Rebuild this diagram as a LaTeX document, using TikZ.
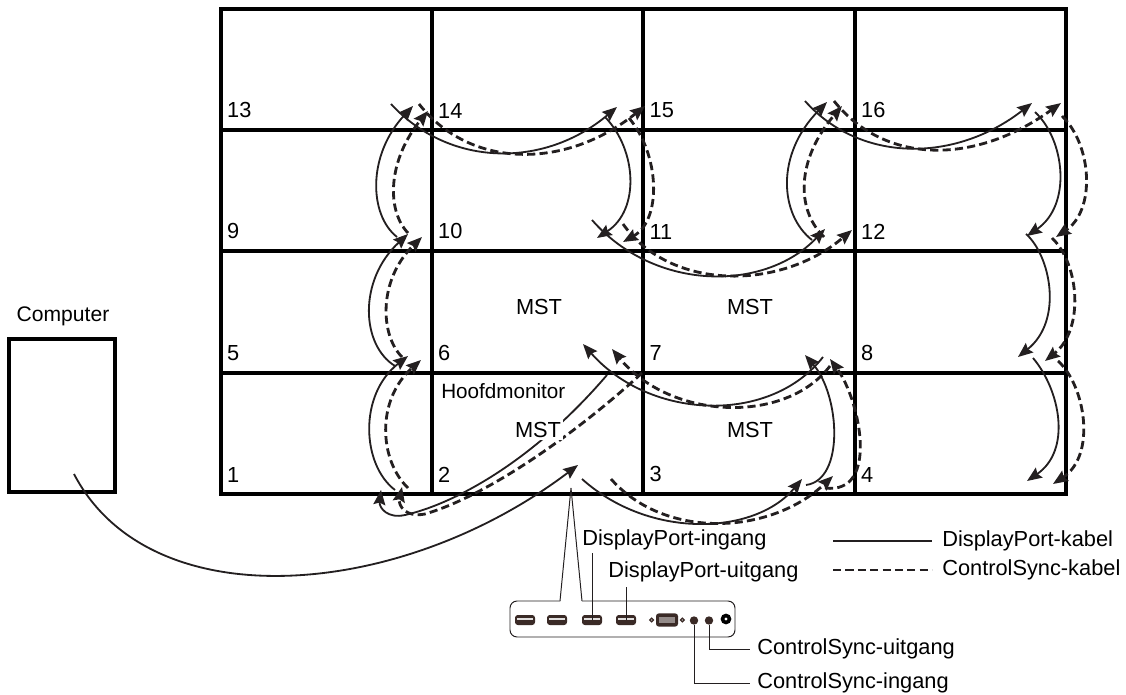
\documentclass[tikz,border=0pt]{standalone}
\usepackage{fontspec}
\setmainfont{Liberation Sans}
\usetikzlibrary{shapes,arrows.meta,positioning,calc}
\definecolor{cablegray}{HTML}{231F20}
\definecolor{portdark}{HTML}{3A2A26}

\begin{document}
\begin{tikzpicture}[
		x=0.025cm, y=-0.025cm,
		monitor/.style={draw, line width=2.8pt, inner sep=0pt, outer sep=0pt,
			minimum width=5.28cm, minimum height=3.04cm},
		num/.style={font=\fontsize{15.5}{18}\selectfont, anchor=south west, inner sep=0pt},
		lbl/.style={font=\fontsize{15.5}{18}\selectfont, inner sep=0pt},
		dpcable/.style={-{Stealth[length=10.5pt,width=8.5pt,inset=1.5pt]}, line width=1.3pt, cablegray},
		cscable/.style={-{Stealth[length=10.5pt,width=8.5pt,inset=1.5pt]}, line width=2pt, cablegray,
			dash pattern=on 5.8pt off 3pt},
		leader/.style={line width=0.7pt, cablegray},
		hdmi/.style={fill=portdark, rounded corners=2pt, inner sep=0pt,
			minimum width=0.5cm, minimum height=0.25cm},
		portbar/.style={fill=white!85!portdark, inner sep=0pt, minimum width=0.4cm, minimum height=0.05cm},
		jack/.style={circle, fill=portdark, inner sep=0pt, minimum size=0.21cm}
		]
		\useasboundingbox (0,0) rectangle (1126,695);
		
		% ── Monitor wall ──
		\foreach \row/\ypos/\first in {0/69.5/13, 1/190.5/9, 2/312/5, 3/433.5/1}
			\foreach \col/\xpos in {0/326.5, 1/537.5, 2/749, 3/960.5} {
				\pgfmathtruncatemacro{\idx}{\first+\col}
				\node[monitor] (m\idx) at (\xpos,\ypos) {};
				\node[num] (n\idx) at ($(m\idx.south west)+(6,-12)$) {\idx};
			}
		
		% ── Computer ──
		\node[draw, line width=2.8pt, inner sep=0pt, minimum width=2.65cm, minimum height=3.83cm] (computer) at (62,415.5) {};
		\node[lbl, font=\fontsize{15}{18}\selectfont] (computerlabel) at (63,316) {Computer};
		
		% ── Cable ends ──
		\foreach \name/\xpos/\ypos in {
			sa/395/490, sb/408/356, da/408/488, db/421/360,
			sc/395/366, sd/408/234, dc/402/357, dd/422/237,
			se/397/237, sf/413/106, de/408/233, df/428/111,
			sg/391/104, sh/617/107, dg/419/104, dh/645/106,
			si/605/117, sj/597/238, di/629/118, dj/623/242,
			sk/592/220, sl/825/229, dk/623/224, dl/852/230,
			sm/812/240, sn/827/102, dm/824/237, dn/842/106,
			so/805/101, sp/1032/103, do/834/101, dp/1061/103,
			sq/1035/112, sr/1027/236, dq/1062/116, dr/1056/237,
			ss/1026/234, st/1018/357, ds/1052/238, dt/1045/361,
			su/1033/358, sv/1027/481, du/1058/361, dv/1053/484,
			sw/823/357, sx/583/344, dw/830/366, dx/612/349,
			sy/806/485, sz/805/355, dy/825/488, dz/830/359,
			tsa/582/479, tsb/802/479, tda/611/479, tdb/833/476,
			lsa/607/375, lsb/381/490, lda/642/373, ldb/402/487,
			pca/74/474, pcb/578/465}
			\coordinate (\name) at (\xpos,\ypos);
		
		% ── Column 1 ──
		\draw[dpcable] (sa) .. controls (362,465) and (358,395) .. (sb);
		\draw[cscable] (da) .. controls (379,460) and (376,400) .. (db);
		\draw[dpcable] (sc) .. controls (361,345) and (358,280) .. (sd);
		\draw[cscable] (dc) .. controls (380,335) and (378,280) .. (dd);
		\draw[dpcable] (se) .. controls (369,215) and (367,155) .. (sf);
		\draw[cscable] (de) .. controls (386,210) and (388,160) .. (df);
		
		% ── Column 2 and 3 ──
		\draw[dpcable] (sg) .. controls (450,168) and (545,168) .. (sh);
		\draw[cscable] (dg) .. controls (470,169) and (565,170) .. (dh);
		\draw[dpcable] (si) .. controls (637,150) and (640,210) .. (sj);
		\draw[cscable] (di) .. controls (660,155) and (662,220) .. (dj);
		\draw[dpcable] (sk) .. controls (655,292) and (765,292) .. (sl);
		\draw[cscable] (dk) .. controls (670,291) and (780,291) .. (dl);
		\draw[dpcable] (sm) .. controls (780,215) and (775,155) .. (sn);
		\draw[cscable] (dm) .. controls (796,210) and (796,160) .. (dn);
		
		% ── Column 4 ──
		\draw[dpcable] (so) .. controls (860,163) and (955,163) .. (sp);
		\draw[cscable] (do) .. controls (885,165) and (975,165) .. (dp);
		\draw[dpcable] (sq) .. controls (1065,140) and (1072,205) .. (sr);
		\draw[cscable] (dq) .. controls (1092,145) and (1096,210) .. (dr);
		\draw[dpcable] (ss) .. controls (1050,255) and (1064,320) .. (st);
		\draw[cscable] (ds) .. controls (1080,265) and (1084,330) .. (dt);
		\draw[dpcable] (su) .. controls (1060,390) and (1072,450) .. (sv);
		\draw[cscable] (du) .. controls (1085,385) and (1097,455) .. (dv);
		
		% ── Bottom rows ──
		\draw[dpcable] (sw) .. controls (770,425) and (650,420) .. (sx);
		\draw[cscable] (dw) .. controls (785,425) and (670,420) .. (dx);
		\draw[dpcable] (sy) .. controls (845,480) and (840,395) .. (sz);
		\draw[cscable] (dy) .. controls (880,495) and (860,400) .. (dz);
		\draw[dpcable] (tsa) .. controls (650,540) and (755,535) .. (tsb);
		\draw[cscable] (tda) .. controls (665,540) and (770,535) .. (tdb);
		\draw[dpcable] (lsa) .. controls (530,465) and (450,505) .. (405,515) .. controls (388,519) and (379,508) .. (lsb);
		\draw[cscable] (lda) .. controls (580,430) and (490,495) .. (425,514) .. controls (405,518) and (398,505) .. (ldb);
		\draw[dpcable] (pca) .. controls (150,620) and (400,600) .. (pcb);
		
		% ── Texts in the wall ──
		\node[lbl] (msta) at (539,307) {MST};
		\node[lbl] (mstb) at (750,307) {MST};
		\node[lbl, fill=white, inner sep=1.5pt] (mstc) at (538,430) {MST};
		\node[lbl] (mstd) at (750,430) {MST};
		\node[lbl, anchor=west, font=\fontsize{14.7}{18}\selectfont] (hoofd) at (441,391) {Hoofdmonitor};
		
		% ── Connector panel ──
		\coordinate (apex) at (571,488);
		\coordinate (gapl) at (560,601);
		\coordinate (gapr) at (582,601);
		\coordinate (panelsw) at (510,637);
		\coordinate (panelne) at (735,601);
		\draw[leader] (gapl) -- (apex) -- (gapr);
		\draw[leader, rounded corners=5pt] (gapr) -- (panelne) -- (panelne |- panelsw) -- (panelsw) -- (panelsw |- panelne) -- (gapl);
		\foreach \portname/\xpos in {hdmia/525, hdmib/557, dpin/592, dpout/626} {
			\node[hdmi] (\portname) at (\xpos,620) {};
			\node[portbar] (\portname bar) at ([yshift=0.03cm]\portname.center) {};
		}
		\node[hdmi, minimum width=0.55cm, minimum height=0.33cm] (vga) at (667,620) {};
		\node[fill=white!45!portdark, inner sep=0pt, minimum width=0.38cm, minimum height=0.14cm] (vgabar) at (vga) {};
		\node[circle, draw=portdark, line width=0.9pt, inner sep=0pt, minimum size=0.09cm, left=0.04cm of vga] (vgal) {};
		\node[circle, draw=portdark, line width=0.9pt, inner sep=0pt, minimum size=0.09cm, right=0.04cm of vga] (vgar) {};
		\node[jack] (csin) at (694,620.5) {};
		\node[jack] (csout) at (709,620.5) {};
		\node[jack, fill=black, minimum size=0.27cm] (audio) at (726,619) {};
		\node[circle, fill=white, inner sep=0pt, minimum size=0.08cm] (audiohole) at (audio) {};
		
		% ── Port labels ──
		\node[lbl, anchor=west] (dpinlabel) at (582,540) {DisplayPort-ingang};
		\node[lbl, anchor=west] (dpoutlabel) at (608,572) {DisplayPort-uitgang};
		\node[lbl, anchor=west] (csoutlabel) at (757,649) {ControlSync-uitgang};
		\node[lbl, anchor=west] (csinlabel) at (757,683) {ControlSync-ingang};
		\draw[leader] (dpin.center) -- (dpin.center |- 0,553);
		\draw[leader] (dpout.center) -- (dpout.center |- 0,587);
		\draw[leader] (csout) |- ([xshift=-0.18cm]csoutlabel.west);
		\draw[leader] (csin) |- ([xshift=-0.18cm]csinlabel.west);
		
		% ── Legend ──
		\node[lbl, anchor=west] (dplegend) at (942,541) {DisplayPort-kabel};
		\node[lbl, anchor=west] (cslegend) at (942,570) {ControlSync-kabel};
		\coordinate (dpstart) at (833,541);
		\coordinate (csstart) at (833,570);
		\draw[line width=1.3pt, cablegray] (dpstart) -- ([xshift=-0.25cm]dplegend.west);
		\draw[line width=2pt, cablegray, dash pattern=on 5.8pt off 3pt] (csstart) -- ([xshift=-0.25cm]cslegend.west);
	\end{tikzpicture}
\end{document}
